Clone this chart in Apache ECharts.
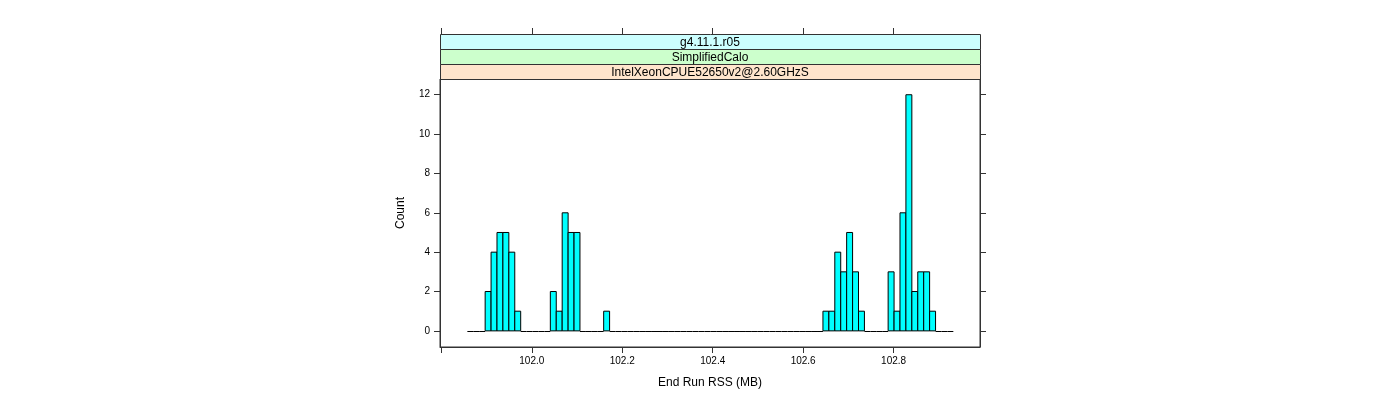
<!DOCTYPE html>
<html>
<head>
<meta charset="utf-8">
<script src="https://cdn.jsdelivr.net/npm/echarts@6/dist/echarts.min.js"></script>
<style>
  html, body { margin: 0; padding: 0; background: #fff; }
  #chart { width: 1400px; height: 400px; }
</style>
</head>
<body>
<div id="chart"></div>
<script>
// histogram breaks (MB)
const binStart = 101.8575;
const binWidth = 0.013104;
// counts per bin, 82 bins
const counts = [
  0, 0, 0, 2, 4, 5, 5, 4, 1, 0,
  0, 0, 0, 0, 2, 1, 6, 5, 5, 0,
  0, 0, 0, 1, 0, 0, 0, 0, 0, 0,
  0, 0, 0, 0, 0, 0, 0, 0, 0, 0,
  0, 0, 0, 0, 0, 0, 0, 0, 0, 0,
  0, 0, 0, 0, 0, 0, 0, 0, 0, 0,
  1, 1, 4, 3, 5, 3, 1, 0, 0, 0,
  0, 3, 1, 6, 12, 2, 3, 3, 1, 0,
  0, 0
];
const xTicks = [101.8, 102.0, 102.2, 102.4, 102.6, 102.8];
const xLabels = [102.0, 102.2, 102.4, 102.6, 102.8];
const yTicks = [0, 2, 4, 6, 8, 10, 12];
const strips = ["g4.11.1.r05", "SimplifiedCalo", "IntelXeonCPUE52650v2@2.60GHzS"];
const stripColors = ["#CCFFFF", "#CCFFCC", "#FFE5CC"];

const bins = counts.map((c, i) => [binStart + i * binWidth, binStart + (i + 1) * binWidth, c]);

const font = "Liberation Sans";
const gridLeft = 440, gridRight = 420, gridTop = 79, gridBottom = 53;
const panelW = 1400 - gridLeft - gridRight;
const stripH = 15;

const chart = echarts.init(document.getElementById("chart"));

const stripGraphics = [];
strips.forEach((s, i) => {
  const y = gridTop - stripH * (strips.length - i);
  stripGraphics.push({
    type: "rect",
    shape: { x: gridLeft + 0.5, y: y + 0.5, width: panelW, height: stripH },
    style: { fill: stripColors[i], stroke: "#333", lineWidth: 1 }
  });
  stripGraphics.push({
    type: "text",
    x: gridLeft + panelW / 2,
    y: y + stripH / 2 + 1,
    style: {
      text: s, fill: "#000", font: "12px " + font,
      textAlign: "center", textVerticalAlign: "middle"
    }
  });
});

const lineCol = "#333";

const option = {
  animation: false,
  grid: {
    left: gridLeft, right: gridRight, top: gridTop, bottom: gridBottom,
    outerBoundsMode: "none",
    show: true, borderColor: lineCol, borderWidth: 1
  },
  xAxis: [
    {
      type: "value", min: 101.797, max: 102.991, position: "bottom",
      name: "End Run RSS (MB)", nameLocation: "middle", nameGap: 30,
      nameTextStyle: { color: "#000", fontFamily: font, fontSize: 12 },
      axisLine: { show: true, onZero: false, lineStyle: { color: lineCol } },
      axisTick: { show: true, customValues: xTicks, length: 6, lineStyle: { color: lineCol } },
      axisLabel: {
        customValues: xLabels, color: "#000", fontFamily: font, fontSize: 10, margin: 9,
        formatter: v => v.toFixed(1)
      },
      splitLine: { show: false }
    },
    {
      type: "value", min: 101.797, max: 102.991, position: "top", offset: 45,
      axisLine: { show: false, onZero: false },
      axisTick: { show: true, customValues: xTicks, length: 6, lineStyle: { color: lineCol } },
      axisLabel: { show: false },
      splitLine: { show: false }
    }
  ],
  yAxis: [
    {
      type: "value", min: -0.82, max: 12.8, position: "left",
      name: "Count", nameLocation: "middle", nameGap: 33, nameRotate: 90,
      nameTextStyle: { color: "#000", fontFamily: font, fontSize: 12 },
      axisLine: { show: true, onZero: false, lineStyle: { color: lineCol } },
      axisTick: { show: true, customValues: yTicks, length: 6, lineStyle: { color: lineCol } },
      axisLabel: { customValues: yTicks, color: "#000", fontFamily: font, fontSize: 10, margin: 10 },
      splitLine: { show: false }
    },
    {
      type: "value", min: -0.82, max: 12.8, position: "right",
      axisLine: { show: true, onZero: false, lineStyle: { color: lineCol } },
      axisTick: { show: true, customValues: yTicks, length: 6, lineStyle: { color: lineCol } },
      axisLabel: { show: false },
      splitLine: { show: false }
    }
  ],
  graphic: stripGraphics,
  series: [
    {
      type: "custom",
      xAxisIndex: 0, yAxisIndex: 0,
      data: bins,
      encode: { x: [0, 1], y: 2 },
      renderItem: (params, api) => {
        const p0 = api.coord([api.value(0), api.value(2)]);
        const p1 = api.coord([api.value(1), 0]);
        if (api.value(2) === 0) {
          return {
            type: "line",
            shape: { x1: p0[0], y1: Math.round(p1[1]) + 0.5, x2: p1[0], y2: Math.round(p1[1]) + 0.5 },
            style: { stroke: "#000", lineWidth: 1 }
          };
        }
        return {
          type: "rect",
          shape: { x: p0[0], y: p0[1], width: p1[0] - p0[0], height: p1[1] - p0[1] },
          style: { fill: "#00FFFF", stroke: "#000", lineWidth: 1 }
        };
      }
    }
  ]
};

chart.setOption(option);
</script>
</body>
</html>
